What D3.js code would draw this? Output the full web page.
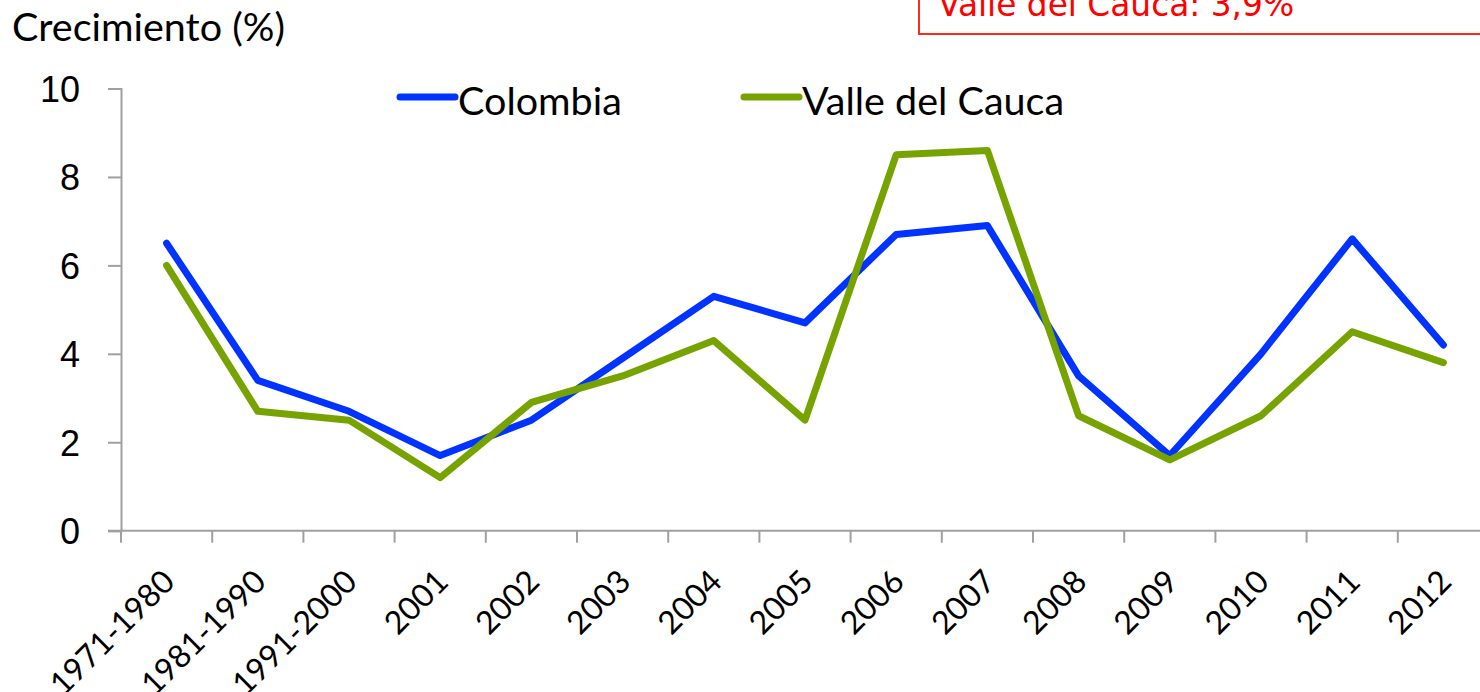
<!DOCTYPE html>
<html>
<head>
<meta charset="utf-8">
<script src="https://cdn.jsdelivr.net/npm/d3@7"></script>
<style>
  body { margin: 0; background: #fff; }
  svg { display: block; font-family: Lato, "Open Sans", sans-serif; }
</style>
</head>
<body>
<div class="container"></div>
<script>
// categories on the x axis
const categories = ['1971-1980', '1981-1990', '1991-2000', '2001', '2002', '2003', '2004',
    '2005', '2006', '2007', '2008', '2009', '2010', '2011', '2012'];

// growth in %
const colombia = [6.5, 3.4, 2.7, 1.7, 2.5, 3.9, 5.3, 4.7, 6.7, 6.9, 3.5, 1.7, 4.0, 6.6, 4.2];
const valle = [6.0, 2.7, 2.5, 1.2, 2.9, 3.5, 4.3, 2.5, 8.5, 8.6, 2.6, 1.6, 2.6, 4.5, 3.8];

const yTicks = [0, 2, 4, 6, 8, 10];
const seriesNames = ['Colombia', 'Valle del Cauca'];
const noteText = 'Valle del Cauca: 3,9%';

const width = 1480;
const height = 692;

const blue = '#0033ff';
const green = '#77a300';
const axisGrey = '#a0a0a0';

const svg = d3.select('.container')
    .append('svg')
    .attr('width', width)
    .attr('height', height);

const xscale = d3.scaleBand().domain(categories).range([121, 121 + 15 * 91.2]);
const yscale = d3.scaleLinear().domain([0, 10]).range([530.7, 88.5]);

// y axis
const yAxis = svg.append('g')
    .attr('transform', 'translate(121,0)')
    .call(d3.axisLeft(yscale).tickValues(yTicks).tickSize(13).tickPadding(28));
yAxis.select('.domain').attr('stroke', axisGrey).attr('stroke-width', 2);
yAxis.selectAll('.tick line').attr('stroke', axisGrey).attr('stroke-width', 2);
yAxis.selectAll('.tick text')
    .attr('fill', '#000')
    .style('font-size', '36px')
    .attr('dy', '0.36em');

// x axis: ticks at band boundaries
const xAxis = svg.append('g').attr('transform', `translate(0,${yscale(0)})`);
xAxis.append('line')
    .attr('x1', 108).attr('x2', width)
    .attr('stroke', axisGrey).attr('stroke-width', 2);
xAxis.selectAll('.xtick')
    .data(categories)
    .enter()
    .append('line')
    .attr('class', 'xtick')
    .attr('x1', d => xscale(d)).attr('x2', d => xscale(d))
    .attr('y1', 0).attr('y2', 12)
    .attr('stroke', axisGrey).attr('stroke-width', 2);
xAxis.selectAll('.xlabel')
    .data(categories)
    .enter()
    .append('text')
    .attr('class', 'xlabel')
    .attr('text-anchor', 'end')
    .attr('transform', d => `translate(${xscale(d) + xscale.bandwidth() / 2 + 10},${53}) rotate(-45)`)
    .style('font-size', '32px')
    .text(d => d);

// lines
const line = d3.line()
    .x((d, i) => xscale(categories[i]) + xscale.bandwidth() / 2)
    .y(d => yscale(d));

[[colombia, blue], [valle, green]].forEach(([vals, color]) => {
    svg.append('path')
        .datum(vals)
        .attr('d', line)
        .attr('fill', 'none')
        .attr('stroke', color)
        .attr('stroke-width', 7)
        .attr('stroke-linejoin', 'round')
        .attr('stroke-linecap', 'round');
});

// y axis title
svg.append('text')
    .attr('x', 12)
    .attr('y', 41)
    .style('font-size', '39.5px')
    .text('Crecimiento (%)');

// legend
const legendX = [400, 744];
const legend = svg.selectAll('.legend')
    .data(seriesNames)
    .enter()
    .append('g')
    .attr('class', 'legend')
    .attr('transform', (d, i) => `translate(${legendX[i]},97)`);
legend.append('line')
    .attr('x1', 0).attr('x2', 55)
    .attr('stroke', (d, i) => i === 0 ? blue : green)
    .attr('stroke-width', 7)
    .attr('stroke-linecap', 'round');
legend.append('text')
    .attr('x', 58)
    .attr('y', 18)
    .style('font-size', '39.5px')
    .text(d => d);

// note box at top right, partially cut off
svg.append('rect')
    .attr('x', 919)
    .attr('y', -40)
    .attr('width', 700)
    .attr('height', 74)
    .attr('fill', 'none')
    .attr('stroke', '#ff2a1a')
    .attr('stroke-width', 2);
svg.append('text')
    .attr('x', 938)
    .attr('y', 16)
    .attr('fill', '#ff0000')
    .style('font-family', '"DejaVu Sans", sans-serif')
    .style('font-size', '32.8px')
    .text(noteText);
</script>
</body>
</html>
